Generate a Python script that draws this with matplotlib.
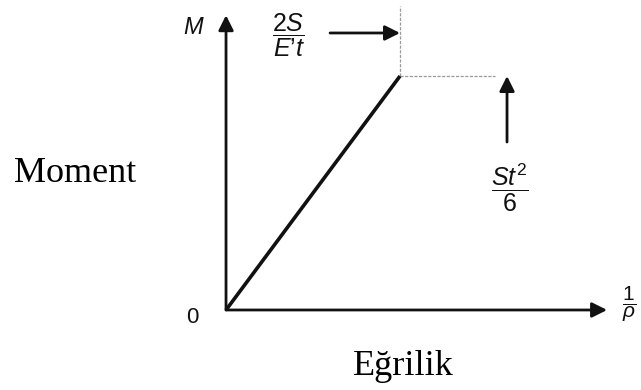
"""Moment - curvature diagram (elastic part up to first yield)."""

import matplotlib
matplotlib.use("Agg")
import matplotlib.pyplot as plt

plt.rcParams["mathtext.fontset"] = "custom"
plt.rcParams["mathtext.it"] = "Liberation Sans:italic"
plt.rcParams["mathtext.rm"] = "Liberation Sans"
plt.rcParams["mathtext.bf"] = "Liberation Sans:bold"

# elastic branch: curvature (1/rho) vs moment, normalised to the yield point
curvature = [0.0, 1.0]
moment = [0.0, 1.0]

# dashed guide lines from the yield point
guide_v_x = [1.0, 1.0]
guide_v_y = [1.0, 1.30]
guide_h_x = [1.0, 1.546]
guide_h_y = [1.0, 1.0]

# axis extents
x_axis_end = 2.19
y_axis_end = 1.26

ink = "#111111"

fig = plt.figure(figsize=(6.41, 3.90), dpi=100)
ax = fig.add_axes([0, 0, 1, 1])
ax.set_xlim(-1.299, 2.385)
ax.set_ylim(-0.342, 1.325)
ax.axis("off")

# axes with arrow heads
arrow_kw = dict(arrowstyle="-|>,head_length=0.9,head_width=0.45", color=ink,
                lw=2.0, shrinkA=0, shrinkB=0)
ax.annotate("", xy=(x_axis_end, 0), xytext=(0, 0), arrowprops=arrow_kw)
ax.annotate("", xy=(0, y_axis_end), xytext=(0, 0), arrowprops=arrow_kw)

# dashed yield guides
ax.plot(guide_v_x, guide_v_y, color="#999999", lw=0.9, ls=(0, (2.5, 1.2)))
ax.plot(guide_h_x, guide_h_y, color="#999999", lw=0.9, ls=(0, (2.5, 1.2)))

# M - curvature line
ax.plot(curvature, moment, color=ink, lw=2.6, solid_capstyle="butt")

# pointer arrows to the yield values
ax.annotate("", xy=(guide_v_x[0], 1.184), xytext=(0.598, 1.184), arrowprops=arrow_kw)
ax.annotate("", xy=(1.615, guide_h_y[0]), xytext=(1.615, 0.718), arrowprops=arrow_kw)

# labels
ax.text(-0.184, 1.209, "$M$", fontsize=17, color=ink, ha="center", va="center")
ax.text(0.362, 1.175, "$\\dfrac{2S}{E\u2019t}$", fontsize=18, color=ink,
        ha="center", va="center")
ax.text(1.632, 0.521, r"$\dfrac{St^2}{6}$", fontsize=18, color=ink,
        ha="center", va="center")
ax.text(-0.195, -0.030, "0", fontsize=16, color=ink, ha="center", va="center",
        family="Liberation Sans")
ax.text(2.316, 0.026, r"$\dfrac{1}{\rho}$", fontsize=15, color=ink,
        ha="center", va="center")

ax.text(-0.868, 0.547, "Moment", fontsize=26, family="Liberation Serif",
        color="black", ha="center", va="baseline")
ax.text(1.021, -0.278, "Eğrilik", fontsize=26, family="Liberation Serif",
        color="black", ha="center", va="baseline")

fig.savefig("out.png", dpi=100)
